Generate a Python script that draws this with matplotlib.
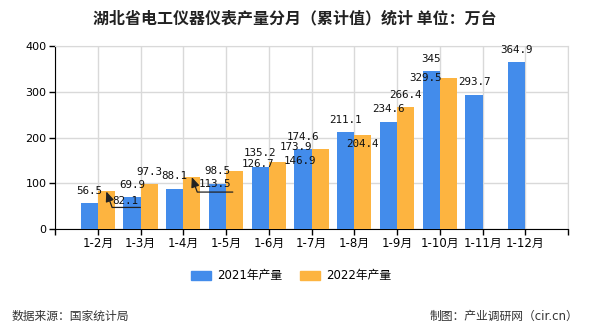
import numpy as np
import matplotlib
matplotlib.use('Agg')
from matplotlib import pyplot as plt
from matplotlib.patches import Patch

plt.rcParams['font.family'] = ['DejaVu Sans', 'Noto Sans CJK SC']

# data
months = ['1-2月', '1-3月', '1-4月', '1-5月', '1-6月', '1-7月',
          '1-8月', '1-9月', '1-10月', '1-11月', '1-12月']
prod_2021 = [56.5, 69.9, 88.1, 98.5, 135.2, 174.6, 211.1, 234.6, 345, 293.7, 364.9]
prod_2022 = [82.1, 97.3, 113.5, 126.7, 146.9, 173.9, 204.4, 266.4, 329.5]
series_names = ['2021年产量', '2022年产量']

c_blue = '#438CEB'
c_orange = '#FDB440'
grid_c = '#d9d9d9'

# label offsets (pixels) where labels were moved to avoid overlap
off_2021 = {4: (0, 14)}
off_2022 = {0: (19, -10), 2: (23, -7), 3: (23, 7), 4: (23, 1),
            5: (-24, 2), 6: (0, -8.5), 8: (-23, 0)}
arrow_2022 = {0: (34, -16), 2: (41, -15)}

fig = plt.figure(figsize=(5.9, 3.3), dpi=100)
ax = fig.add_axes([55/590, 1-229/330, (568-55)/590, (229-46)/330])

x = np.arange(len(months))
w = 0.4
ax.bar(x - w/2, prod_2021, width=w, color=c_blue, zorder=3)
ax.bar(x[:len(prod_2022)] + w/2, prod_2022, width=w, color=c_orange, zorder=3)

lab_kw = dict(textcoords='offset pixels', ha='center', va='center',
              fontsize=7.8, family='DejaVu Sans Mono', color='#111111', zorder=5)

for i, v in enumerate(prod_2021):
    dx, dy = off_2021.get(i, (0, 12.5))
    ax.annotate(f'{v:g}', xy=(x[i] - w/2, v), xytext=(dx, dy), **lab_kw)

for i, v in enumerate(prod_2022):
    dx, dy = off_2022.get(i, (0, 12.5))
    ax.annotate(f'{v:g}', xy=(x[i] + w/2, v), xytext=(dx, dy), **lab_kw)
    if i in arrow_2022:
        ax.annotate('', xy=(x[i] + w/2, v), xytext=arrow_2022[i],
                    textcoords='offset pixels', zorder=6,
                    arrowprops=dict(arrowstyle='-|>,head_length=0.6,head_width=0.25',
                                    connectionstyle='angle,angleA=0,angleB=110,rad=0',
                                    color='#222222', lw=0.9, shrinkA=0, shrinkB=0,
                                    mutation_scale=10))

ax.set_xlim(-1, len(months))
ax.set_ylim(0, 400)
ax.set_xticks(np.arange(-1, len(months) + 1))
ax.set_xticklabels([''] + months + [''], fontsize=8.5)
ax.set_yticks(np.arange(0, 401, 100))
ax.tick_params(axis='y', labelsize=8, length=4, width=1, pad=2)
ax.tick_params(axis='x', length=4, width=1, pad=2)
ax.grid(True, color=grid_c, lw=1, zorder=0)
for s in ['top', 'right']:
    ax.spines[s].set_color(grid_c)
for s in ['left', 'bottom']:
    ax.spines[s].set_color('black')

fig.text(295/590, 1-18/330, '湖北省电工仪器仪表产量分月（累计值）统计 单位：万台',
         ha='center', va='center', fontsize=11.5, fontweight='bold',
         family='Noto Sans CJK SC', color='#222222')

handles = [Patch(color=c_blue), Patch(color=c_orange)]
fig.legend(handles, series_names, loc='center', bbox_to_anchor=(291/590, 1-276/330),
           ncol=2, frameon=False, fontsize=8.5, handlelength=1.7, handleheight=0.7,
           columnspacing=1.5, handletextpad=0.5)

fig.text(12/590, 1-316/330, '数据来源：国家统计局', ha='left', va='center',
         fontsize=8.5, color='#333333')
fig.text(578/590, 1-316/330, '制图：产业调研网（cir.cn）', ha='right', va='center',
         fontsize=8.5, color='#333333')

fig.savefig('out.png', dpi=100)
